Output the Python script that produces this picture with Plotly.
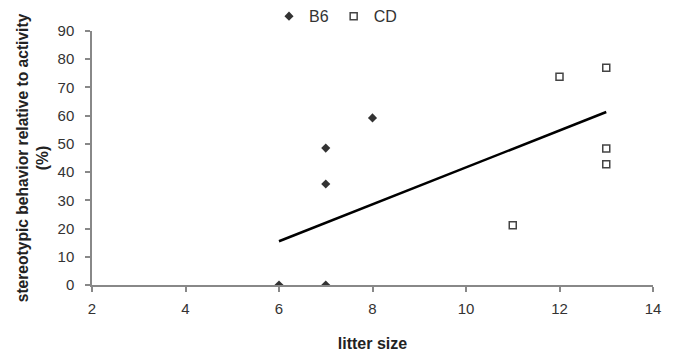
import plotly.graph_objects as go

b6_litter = [6, 7, 7, 7, 8]
b6_values = [0, 0, 35.8, 48.5, 59.2]
cd_litter = [11, 12, 13, 13, 13]
cd_values = [21.2, 73.8, 77.0, 48.4, 42.8]
trend_x = [6, 13]
trend_y = [15.5, 61.3]

x_ticks = [2, 4, 6, 8, 10, 12, 14]
y_ticks = [0, 10, 20, 30, 40, 50, 60, 70, 80, 90]

FONT = "Liberation Sans, Arial, sans-serif"

fig = go.Figure()
fig.add_trace(go.Scatter(x=b6_litter, y=b6_values, mode="markers", name="B6",
                         marker=dict(symbol="diamond", size=7, color="#333333",
                                     line=dict(width=0))))
fig.add_trace(go.Scatter(x=cd_litter, y=cd_values, mode="markers", name="CD",
                         marker=dict(symbol="square-open", size=7, color="#444444",
                                     line=dict(width=1.5))))
fig.add_trace(go.Scatter(x=trend_x, y=trend_y, mode="lines", showlegend=False,
                         line=dict(color="black", width=2.5)))

axis_font = dict(family=FONT, size=15, color="#333333")
# the page body adds an 8px offset, so the figure is 8px smaller on each axis
fig.update_layout(
    width=665, height=348,
    margin=dict(l=84, r=20, t=23, b=71, autoexpand=False),
    plot_bgcolor="white", paper_bgcolor="white",
    font=dict(family=FONT, color="#333333"),
    showlegend=True,
    legend=dict(orientation="h", x=0.3155, xanchor="left", y=1.058, yanchor="middle",
                font=dict(family=FONT, size=16, color="#333333"),
                itemwidth=30, bgcolor="rgba(0,0,0,0)", borderwidth=0),
    xaxis=dict(range=[2, 14], tickvals=x_ticks, showgrid=False, zeroline=False,
               automargin=False,
               showline=True, linecolor="#888888", linewidth=1.5,
               ticks="outside", ticklen=5, tickcolor="#888888", tickwidth=1.5,
               tickfont=axis_font, ticklabelstandoff=4,
               title=dict(text="<b>litter size</b>",
                          font=dict(family=FONT, size=16, color="#222222"),
                          standoff=22)),
    yaxis=dict(range=[0, 90], tickvals=y_ticks, showgrid=False, zeroline=False,
               automargin=False,
               showline=True, linecolor="#888888", linewidth=1.5,
               ticks="outside", ticklen=5, tickcolor="#888888", tickwidth=1.5,
               tickfont=axis_font, ticklabelstandoff=8,
               title=dict(text="<b>stereotypic behavior relative to activity<br>(%)</b>",
                          font=dict(family=FONT, size=15.6, color="#222222"),
                          standoff=5)),
)
fig.write_html("out.html")
